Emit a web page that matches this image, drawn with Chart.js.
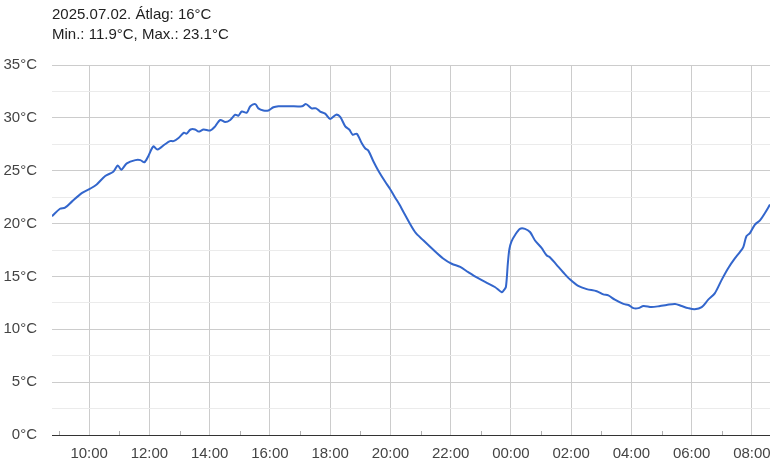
<!DOCTYPE html>
<html>
<head>
<meta charset="utf-8">
<script src="https://cdn.jsdelivr.net/npm/chart.js@4/dist/chart.umd.min.js"></script>
<style>
  html, body { margin: 0; padding: 0; background: #fff; }
  #wrap { position: relative; width: 772px; height: 470px; }
  #title { position: absolute; left: 52px; top: 4px; font: 15px "Liberation Sans", Arial, sans-serif; line-height: 20px; color: #222; }
  canvas { position: absolute; left: 0; top: 0; }
</style>
</head>
<body>
<div id="wrap">
  <canvas id="c" width="772" height="470"></canvas>
  <div id="title">2025.07.02. Átlag: 16°C<br>Min.: 11.9°C, Max.: 23.1°C</div>
</div>
<script>
const times = ["08:46","09:02","09:12","09:26","09:46","10:02","10:15","10:32","10:48","10:57","11:04","11:15","11:32","11:42","11:50","11:58","12:08","12:16","12:31","12:41","12:48","12:58","13:09","13:14","13:22","13:31","13:38","13:48","14:01","14:11","14:21","14:31","14:41","14:51","14:57","15:04","15:14","15:21","15:31","15:37","15:47","15:57","16:07","16:17","16:27","16:40","17:04","17:12","17:23","17:32","17:40","17:50","18:00","18:12","18:20","18:30","18:38","18:45","18:53","19:03","19:10","19:16","19:26","19:36","19:49","19:59","20:09","20:18","20:26","20:49","21:06","21:26","21:45","22:02","22:19","22:35","22:52","23:12","23:28","23:42","23:46","23:50","23:54","23:57","00:01","00:08","00:18","00:28","00:38","00:48","01:01","01:11","01:18","01:31","01:44","01:58","02:14","02:31","02:51","03:04","03:14","03:27","03:44","03:54","04:04","04:14","04:24","04:40","04:57","05:10","05:27","05:40","05:53","06:06","06:20","06:33","06:46","07:00","07:13","07:26","07:36","07:43","07:49","07:56","08:06","08:16","08:26","08:36"];
const temps = [20.7,21.4,21.5,22.1,22.9,23.3,23.7,24.5,24.9,25.5,25.1,25.7,26.0,26.0,25.8,26.4,27.3,27.0,27.5,27.8,27.8,28.1,28.6,28.5,28.9,28.9,28.7,28.9,28.8,29.2,29.8,29.6,29.8,30.3,30.2,30.6,30.5,31.1,31.3,30.9,30.7,30.7,31.0,31.1,31.1,31.1,31.1,31.3,30.9,30.9,30.6,30.4,29.9,30.3,30.1,29.2,28.9,28.4,28.5,27.6,27.1,26.9,25.9,25.0,24.0,23.3,22.5,21.8,21.1,19.2,18.4,17.5,16.7,16.2,15.9,15.4,14.9,14.4,14.0,13.5,13.7,14.0,16.3,17.6,18.3,18.9,19.5,19.5,19.2,18.4,17.7,17.0,16.8,16.1,15.4,14.7,14.1,13.8,13.6,13.3,13.2,12.8,12.4,12.3,12.0,12.0,12.2,12.1,12.2,12.3,12.4,12.2,12.0,11.9,12.1,12.8,13.4,14.7,15.8,16.7,17.3,17.8,18.8,19.1,19.9,20.3,21.0,21.8];
const xStart = "08:46";
const xEnd = "08:36";
const yTicks = [0, 5, 10, 15, 20, 25, 30, 35];

const startMin = (() => { const [h, m] = xStart.split(":").map(Number); return h * 60 + m; })();
function toMin(s) {
  const [h, m] = s.split(":").map(Number);
  let v = h * 60 + m;
  if (v < startMin) v += 1440;
  return v;
}
function fmt(v) {
  const m = ((v % 1440) + 1440) % 1440;
  const h = Math.floor(m / 60), mm = m % 60;
  return String(h).padStart(2, "0") + ":" + String(mm).padStart(2, "0");
}
const points = times.map((t, i) => ({ x: toMin(t), y: temps[i] }));
const xMin = toMin(xStart), xMax = toMin(xEnd);
const isEvenHour = v => v % 60 === 0 && (v / 60) % 2 === 0;

const minorTicks = {
  id: "minorTicks",
  beforeDatasetsDraw(chart) {
    const xs = chart.scales.x, ctx = chart.ctx, bottom = chart.chartArea.bottom;
    ctx.save();
    ctx.strokeStyle = "#b0b0b0";
    ctx.lineWidth = 1;
    for (let v = Math.ceil(xMin / 60) * 60; v <= xMax; v += 60) {
      if ((v / 60) % 2 === 1) {
        const px = Math.round(xs.getPixelForValue(v)) + 0.5;
        ctx.beginPath();
        ctx.moveTo(px, bottom - 4);
        ctx.lineTo(px, bottom);
        ctx.stroke();
      }
    }
    ctx.restore();
  }
};

new Chart(document.getElementById("c"), {
  type: "line",
  data: {
    datasets: [{
      data: points,
      borderColor: "#3366cc",
      borderWidth: 2,
      pointRadius: 0,
      tension: 0.3,
      fill: false
    }]
  },
  options: {
    responsive: false,
    animation: false,
    layout: { padding: { top: 65, right: 2, left: 0, bottom: 0 } },
    plugins: { legend: { display: false }, tooltip: { enabled: false } },
    scales: {
      x: {
        type: "linear",
        min: xMin,
        max: xMax,
        afterBuildTicks(scale) {
          const t = [];
          for (let v = Math.ceil(xMin / 60) * 60; v <= xMax; v += 60) t.push({ value: v });
          scale.ticks = t;
        },
        afterFit(scale) {
          scale.height = 35;
          scale.paddingLeft = 0;
          scale.paddingRight = 0;
        },
        ticks: {
          autoSkip: false,
          maxRotation: 0,
          padding: 10,
          color: "#444",
          font: { family: "'Liberation Sans', Arial, sans-serif", size: 15 },
          callback(v) { return isEvenHour(v) ? fmt(v) : ""; }
        },
        grid: {
          drawTicks: false,
          color(ctx) { return ctx.tick && isEvenHour(ctx.tick.value) ? "#cccccc" : "rgba(0,0,0,0)"; }
        },
        border: { display: false }
      },
      y: {
        min: 0,
        max: 35,
        afterBuildTicks(scale) {
          const t = [];
          for (let v = 0; v <= 35; v += 2.5) t.push({ value: v });
          scale.ticks = t;
        },
        afterFit(scale) { scale.width = 52; },
        ticks: {
          autoSkip: false,
          padding: 15,
          color: "#444",
          font: { family: "'Liberation Sans', Arial, sans-serif", size: 15 },
          callback(v) { return yTicks.includes(v) ? v + "°C" : ""; }
        },
        grid: {
          drawTicks: false,
          color(ctx) {
            const v = ctx.tick ? ctx.tick.value : 0;
            if (v === 0) return "#333333";
            return v % 5 === 0 ? "#cccccc" : "#ebebeb";
          }
        },
        border: { display: false }
      }
    }
  },
  plugins: [minorTicks]
});
</script>
</body>
</html>
